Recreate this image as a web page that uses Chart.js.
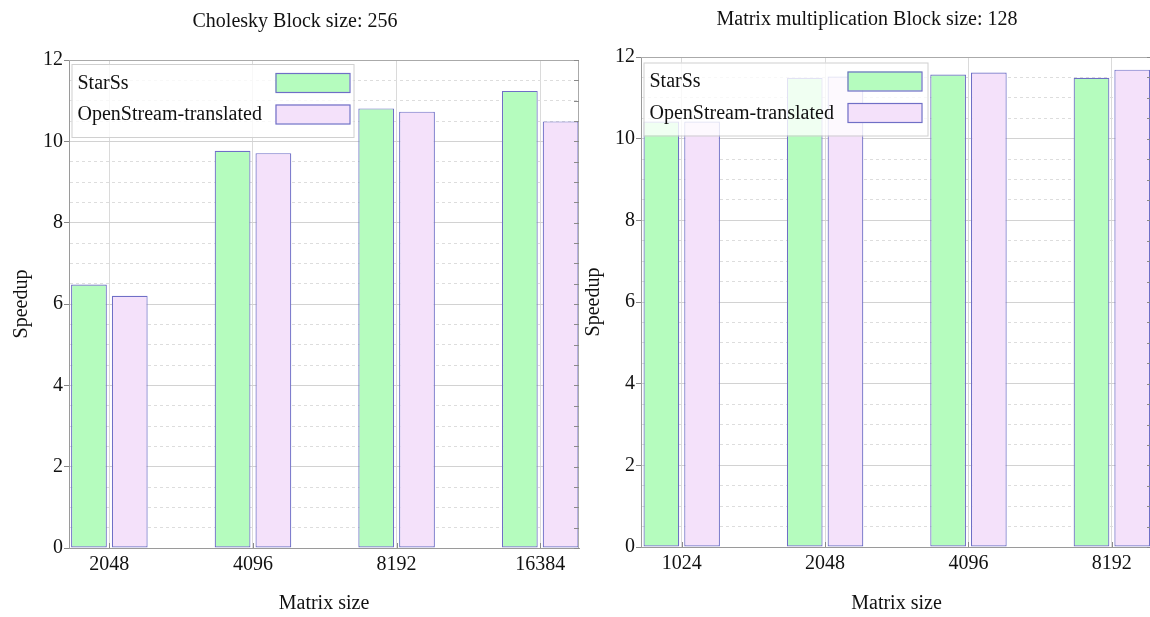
<!DOCTYPE html>
<html>
<head>
<meta charset="utf-8">
<script src="https://cdn.jsdelivr.net/npm/chart.js@4.4.1/dist/chart.umd.min.js"></script>
<style>
  html, body { margin: 0; padding: 0; background: #fff; overflow: hidden; width: 1150px; height: 617px; }
  canvas { position: absolute; top: 0; }
  #c1 { left: 0; }
  #c2 { left: 580px; }
</style>
</head>
<body>
<canvas id="c1" width="580" height="617"></canvas>
<canvas id="c2" width="572" height="617"></canvas>
<script>
// ---- Data ----
const seriesNames = ['StarSs', 'OpenStream-translated'];

const choleskyTitle = 'Cholesky Block size: 256';
const choleskySizes = ['2048', '4096', '8192', '16384'];
const choleskyStarSs = [6.48, 9.77, 10.81, 11.24];
const choleskyOpenStream = [6.20, 9.71, 10.73, 10.49];

const matmulTitle = 'Matrix multiplication Block size: 128';
const matmulSizes = ['1024', '2048', '4096', '8192'];
const matmulStarSs = [10.42, 11.49, 11.57, 11.49];
const matmulOpenStream = [10.42, 11.52, 11.62, 11.69];

const yTickLabels = [0, 2, 4, 6, 8, 10, 12];
const xTitle = 'Matrix size';
const yTitle = 'Speedup';

// ---- Styles ----
const FONT = "'Liberation Serif', 'Times New Roman', serif";
const GREEN = '#b5fcbe';
const PINK = '#f4e1fa';
const EDGE = '#6f6fc6';

const figPlugin = {
  id: 'figDeco',
  afterDatasetsDraw(chart, args, opts) {
    const ctx = chart.ctx;
    const a = chart.chartArea;
    const xs = chart.scales.x, ys = chart.scales.y;
    ctx.save();
    // frame (top/right)
    ctx.strokeStyle = '#aaaaaa';
    ctx.lineWidth = 1;
    ctx.beginPath();
    ctx.moveTo(a.left, a.top + 0.5);
    ctx.lineTo(a.right - 0.5, a.top + 0.5);
    ctx.lineTo(a.right - 0.5, a.bottom);
    ctx.stroke();
    // inner ticks
    ctx.strokeStyle = '#8a8a8a';
    ctx.beginPath();
    xs.ticks.forEach(t => {
      const px = Math.round(xs.getPixelForValue(t.value)) + 0.5;
      ctx.moveTo(px, a.bottom); ctx.lineTo(px, a.bottom - 5);
    });
    ys.ticks.forEach(t => {
      const py = Math.round(ys.getPixelForValue(t.value)) + 0.5;
      ctx.moveTo(a.right, py); ctx.lineTo(a.right - 5, py);
    });
    ctx.stroke();
    // legend
    const lx = a.left + opts.dx, ly = a.top + opts.dy;
    const w = opts.w, h = 73;
    ctx.fillStyle = 'rgba(255,255,255,0.8)';
    ctx.fillRect(lx, ly, w, h);
    ctx.strokeStyle = '#d0d0d0';
    ctx.strokeRect(lx + 0.5, ly + 0.5, w, h);
    ctx.font = '20px ' + FONT;
    ctx.textBaseline = 'middle';
    ctx.textAlign = 'left';
    chart.data.datasets.forEach((ds, i) => {
      ctx.fillStyle = '#111';
      ctx.fillText(ds.label, lx + 6, ly + 19.5 + i * 31.5);
      const sx = lx + 204, sy = ly + 9 + i * 31.5;
      ctx.fillStyle = ds.backgroundColor;
      ctx.fillRect(sx, sy, 74, 19);
      ctx.strokeStyle = ds.borderColor;
      ctx.lineWidth = 1.2;
      ctx.strokeRect(sx + 0.5, sy + 0.5, 74, 19);
    });
    ctx.restore();
  },
  afterDraw(chart, args, opts) {
    const ctx = chart.ctx;
    ctx.save();
    ctx.font = '20px ' + FONT;
    ctx.fillStyle = '#111';
    ctx.textAlign = 'center';
    ctx.textBaseline = 'middle';
    ctx.fillText(opts.title, chart.chartArea.left + 226, opts.titleY);
    ctx.restore();
  }
};

function makeChart(id, title, cats, s1, s2, cfg) {
  const isMajor = c => c.tick && Math.abs(c.tick.value % 2) < 1e-9;
  return new Chart(document.getElementById(id), {
    type: 'bar',
    data: {
      datasets: [
        { label: seriesNames[0], data: s1.map((v, i) => ({ x: i, y: v })),
          backgroundColor: GREEN, borderColor: EDGE, borderWidth: 1.2, borderSkipped: false },
        { label: seriesNames[1], data: s2.map((v, i) => ({ x: i, y: v })),
          backgroundColor: PINK, borderColor: EDGE, borderWidth: 1.2, borderSkipped: false }
      ]
    },
    plugins: [figPlugin],
    options: {
      responsive: false,
      animation: false,
      devicePixelRatio: 1,
      categoryPercentage: 0.568,
      barPercentage: 0.877,
      layout: { padding: { top: cfg.top, right: cfg.right, left: 0, bottom: 0 } },
      plugins: {
        legend: { display: false },
        tooltip: { enabled: false },
        title: { display: false },
        figDeco: { title: title, titleY: cfg.titleY, dx: cfg.ldx, dy: cfg.ldy, w: cfg.lw }
      },
      scales: {
        x: {
          type: 'linear',
          offset: false,
          min: cfg.xmin, max: cfg.xmax,
          afterBuildTicks: s => { s.ticks = cats.map((c, i) => ({ value: i })); },
          afterFit: s => { s.height = cfg.xh; },
          ticks: {
            callback: v => cats[v] !== undefined ? cats[v] : '',
            font: { family: FONT, size: 20 }, color: '#111', padding: 5,
            maxRotation: 0, autoSkip: false
          },
          grid: { color: '#dadada', drawTicks: false, lineWidth: 1, offset: false },
          border: { color: '#9a9a9a' },
          title: { display: true, text: xTitle, font: { family: FONT, size: 20 }, color: '#111',
                   padding: { top: 0, bottom: 1 } }
        },
        y: {
          min: 0, max: 12,
          afterFit: s => { s.width = cfg.yw; },
          ticks: {
            stepSize: 0.5, autoSkip: false,
            callback: v => yTickLabels.includes(v) ? String(v) : '',
            font: { family: FONT, size: 20 }, color: '#111', padding: 1
          },
          grid: {
            color: c => isMajor(c) ? '#d2d2d2' : '#dddddd',
            tickColor: c => isMajor(c) ? '#888' : 'rgba(0,0,0,0)',
            tickLength: 5, lineWidth: 1
          },
          border: { color: '#9a9a9a', dash: c => (c.tick && !isMajor(c)) ? [3, 3] : [] },
          title: { display: true, text: yTitle, font: { family: FONT, size: 20 }, color: '#111',
                   padding: { top: cfg.ytp, bottom: 0 } }
        }
      }
    }
  });
}

makeChart('c1', choleskyTitle, choleskySizes, choleskyStarSs, choleskyOpenStream,
  { top: 60, right: 1, xh: 69, yw: 69, xmin: -0.281, xmax: 3.27, titleY: 22, ldx: 2.5, ldy: 4, lw: 282, ytp: 10 });
makeChart('c2', matmulTitle, matmulSizes, matmulStarSs, matmulOpenStream,
  { top: 57, right: 0, xh: 70, yw: 61, xmin: -0.284, xmax: 3.28, titleY: 20, ldx: 2.5, ldy: 5.5, lw: 284, ytp: 2 });
</script>
</body>
</html>
